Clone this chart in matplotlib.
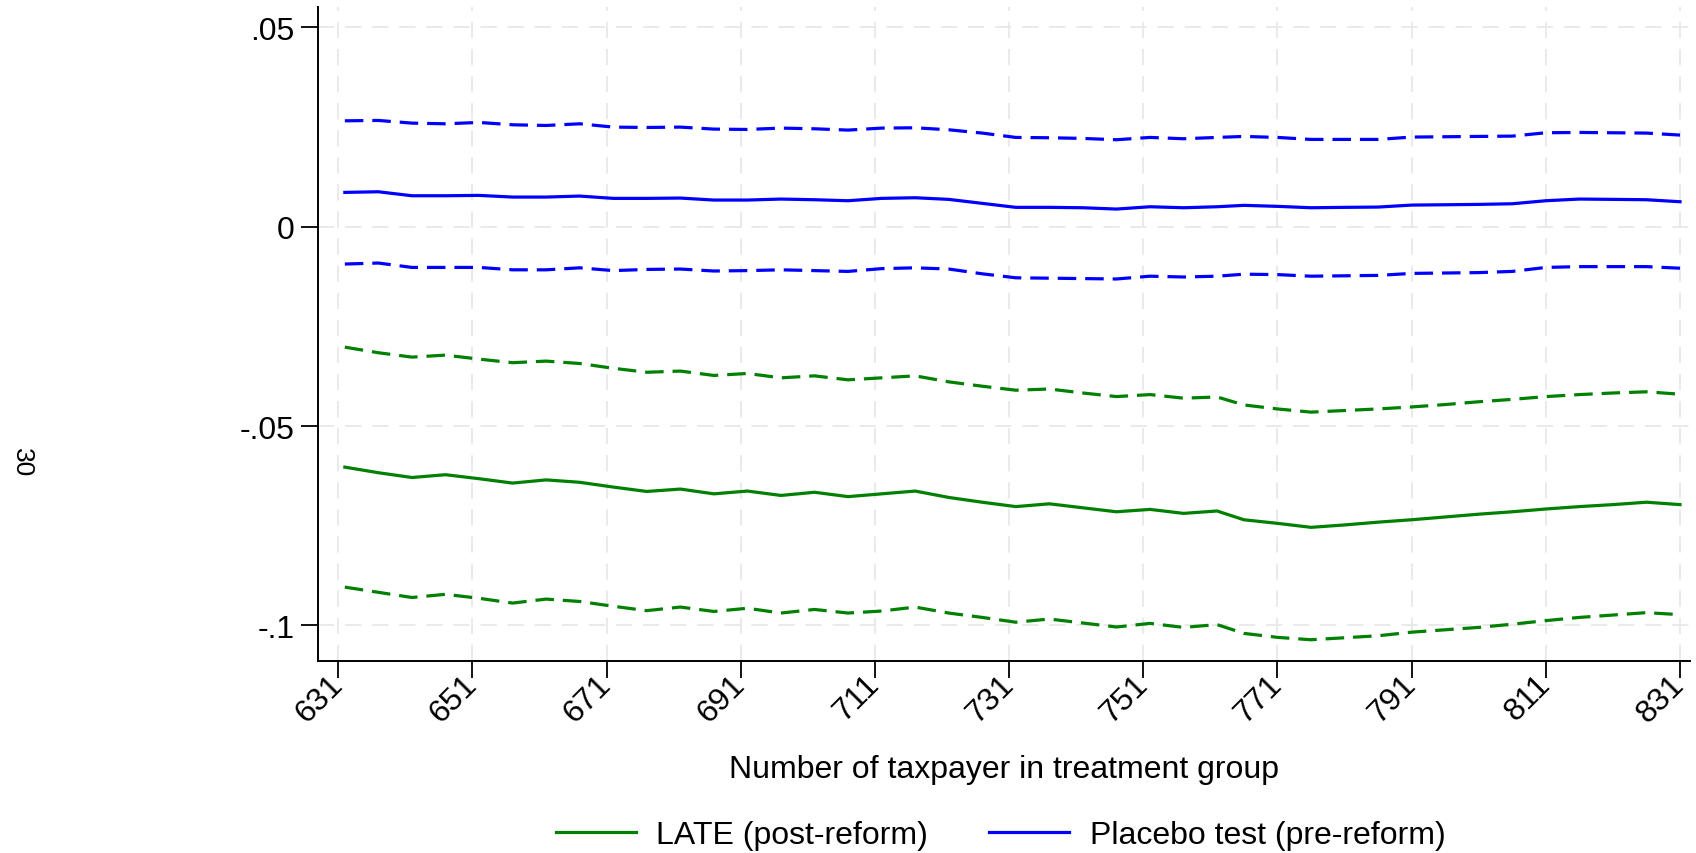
import matplotlib
matplotlib.use("Agg")
import matplotlib.pyplot as plt
from matplotlib.lines import Line2D

plt.rcParams['font.family'] = ['Liberation Sans', 'DejaVu Sans']

# Number of taxpayers in treatment group (bandwidth steps)
taxpayers = [632, 637, 642, 647, 652, 657, 662, 667, 672, 677,
             682, 687, 692, 697, 702, 707, 712, 717, 722, 727,
             732, 737, 742, 747, 752, 757, 762, 766, 771, 776,
             781, 786, 791, 796, 801, 806, 811, 816, 821, 826, 831]

# LATE (post-reform): point estimate and 95% confidence bounds
late_est = [-0.0603, -0.0617, -0.0629, -0.0622, -0.0632, -0.0643, -0.0635, -0.0641, -0.0653, -0.0664,
            -0.0658, -0.0670, -0.0663, -0.0674, -0.0666, -0.0677, -0.0670, -0.0663, -0.0679, -0.0691,
            -0.0702, -0.0695, -0.0705, -0.0715, -0.0709, -0.0719, -0.0713, -0.0735, -0.0744, -0.0754,
            -0.0748, -0.0741, -0.0735, -0.0728, -0.0721, -0.0715, -0.0708, -0.0702, -0.0697, -0.0691, -0.0697]
late_hi = [-0.0302, -0.0316, -0.0327, -0.0322, -0.0332, -0.0341, -0.0337, -0.0343, -0.0355, -0.0365,
           -0.0362, -0.0373, -0.0368, -0.0379, -0.0374, -0.0384, -0.0379, -0.0374, -0.0389, -0.0400,
           -0.0410, -0.0407, -0.0417, -0.0426, -0.0421, -0.0430, -0.0427, -0.0447, -0.0457, -0.0465,
           -0.0461, -0.0457, -0.0452, -0.0446, -0.0439, -0.0433, -0.0426, -0.0421, -0.0417, -0.0414, -0.0420]
late_lo = [-0.0904, -0.0917, -0.0930, -0.0922, -0.0932, -0.0944, -0.0934, -0.0940, -0.0952, -0.0963,
           -0.0954, -0.0965, -0.0957, -0.0969, -0.0960, -0.0969, -0.0964, -0.0954, -0.0969, -0.0980,
           -0.0992, -0.0984, -0.0994, -0.1004, -0.0995, -0.1005, -0.0998, -0.1020, -0.1030, -0.1036,
           -0.1031, -0.1026, -0.1017, -0.1011, -0.1005, -0.0997, -0.0988, -0.0980, -0.0974, -0.0968, -0.0973]

# Placebo test (pre-reform): point estimate and 95% confidence bounds
placebo_est = [0.00862, 0.00878, 0.00778, 0.00778, 0.00787, 0.00745, 0.00745, 0.00770, 0.00712, 0.00712,
               0.00720, 0.00670, 0.00670, 0.00695, 0.00678, 0.00653, 0.00712, 0.00728, 0.00687, 0.00587,
               0.00487, 0.00487, 0.00477, 0.00444, 0.00502, 0.00477, 0.00502, 0.00537, 0.00512, 0.00477,
               0.00487, 0.00494, 0.00544, 0.00552, 0.00561, 0.00577, 0.00653, 0.00695, 0.00687, 0.00678, 0.00628]
placebo_hi = [0.02658, 0.02667, 0.02600, 0.02583, 0.02617, 0.02558, 0.02541, 0.02583, 0.02500, 0.02491,
              0.02500, 0.02450, 0.02441, 0.02475, 0.02458, 0.02425, 0.02475, 0.02483, 0.02433, 0.02350,
              0.02241, 0.02233, 0.02216, 0.02183, 0.02241, 0.02208, 0.02241, 0.02266, 0.02241, 0.02191,
              0.02191, 0.02191, 0.02250, 0.02258, 0.02266, 0.02274, 0.02358, 0.02366, 0.02358, 0.02350, 0.02300]
placebo_lo = [-0.00935, -0.00910, -0.01020, -0.01020, -0.01020, -0.01080, -0.01080, -0.01030, -0.01100, -0.01070,
              -0.01060, -0.01110, -0.01100, -0.01080, -0.01100, -0.01120, -0.01050, -0.01030, -0.01060, -0.01180,
              -0.01280, -0.01290, -0.01300, -0.01310, -0.01240, -0.01260, -0.01240, -0.01190, -0.01200, -0.01240,
              -0.01230, -0.01220, -0.01170, -0.01160, -0.01150, -0.01120, -0.01020, -0.01000, -0.01000, -0.01000, -0.01040]

x_ticks = [631, 651, 671, 691, 711, 731, 751, 771, 791, 811, 831]
y_ticks = [0.05, 0.0, -0.05, -0.1]
y_ticklabels = ['.05', '0', '-.05', '-.1']

GREEN = '#008000'
BLUE = '#0000ff'
FS_TICK = 23
FS_TEXT = 23

fig = plt.figure(figsize=(16.96, 8.54), dpi=100)
ax = fig.add_axes([0.1875, 0.2245, 0.809, 0.766])

lw = 2.3
dash = (5.8, 2.8)
ax.plot(taxpayers, late_est, color=GREEN, lw=lw)
ax.plot(taxpayers, late_hi, color=GREEN, lw=lw, dashes=dash)
ax.plot(taxpayers, late_lo, color=GREEN, lw=lw, dashes=dash)
ax.plot(taxpayers, placebo_est, color=BLUE, lw=lw)
ax.plot(taxpayers, placebo_hi, color=BLUE, lw=lw, dashes=dash)
ax.plot(taxpayers, placebo_lo, color=BLUE, lw=lw, dashes=dash)

ax.set_xlim(628.0, 832.5)
ax.set_ylim(-0.109, 0.0551)

ax.set_xticks(x_ticks)
ax.set_xticklabels([str(t) for t in x_ticks], rotation=45, ha='right', va='center',
                   rotation_mode='anchor', fontsize=FS_TICK)
ax.set_yticks(y_ticks)
ax.set_yticklabels(y_ticklabels, fontsize=FS_TICK)
ax.tick_params(axis='both', direction='out', length=12, width=1.3, color='black')
ax.tick_params(axis='x', pad=1)
ax.tick_params(axis='y', pad=5)

ax.grid(True, color='#e8e8e8', lw=1.3, dashes=(9, 6))
ax.set_axisbelow(True)

for side in ('top', 'right'):
    ax.spines[side].set_visible(False)
for side in ('left', 'bottom'):
    ax.spines[side].set_linewidth(1.4)

ax.set_xlabel('Number of taxpayer in treatment group', fontsize=FS_TEXT)
ax.xaxis.label.set_va('center')
ax.xaxis.set_label_coords(0.5, -0.1646)

fig.text(0.013, 0.458, '30', rotation=-90, fontsize=19, ha='center', va='center')

handles = [Line2D([], [], color=GREEN, lw=lw), Line2D([], [], color=BLUE, lw=lw)]
fig.legend(handles, ['LATE (post-reform)', 'Placebo test (pre-reform)'],
           loc='center', bbox_to_anchor=(0.59, 0.021), ncol=2, frameon=False,
           fontsize=FS_TEXT, handlelength=2.5, handletextpad=0.65, columnspacing=1.9)

fig.savefig('out.png', dpi=100)
